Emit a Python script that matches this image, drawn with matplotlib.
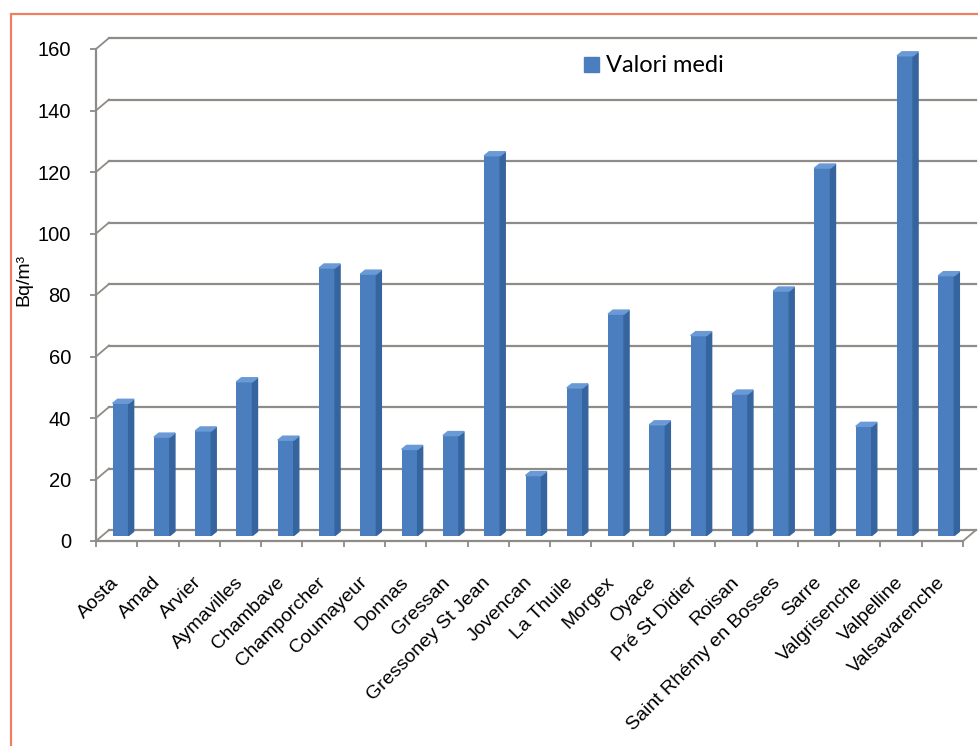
import matplotlib
matplotlib.use('Agg')
import matplotlib.pyplot as plt
from matplotlib.patches import Polygon, Rectangle
import numpy as np

# Valori medi di concentrazione di radon per comune (Bq/m³)
comuni = ['Aosta', 'Amad', 'Arvier', 'Aymavilles', 'Chambave', 'Champorcher',
          'Coumayeur', 'Donnas', 'Gressan', 'Gressoney St Jean', 'Jovencan',
          'La Thuile', 'Morgex', 'Oyace', 'Pré St Didier', 'Roisan',
          'Saint Rhémy en Bosses', 'Sarre', 'Valgrisenche', 'Valpelline',
          'Valsavarenche']
valori_medi = [43, 32, 34, 50, 31, 87, 85, 28, 32.5, 123.5, 19.5,
               48, 72, 36, 65, 46, 79.5, 119.5, 35.5, 156, 84.5]
tick_y = [0, 20, 40, 60, 80, 100, 120, 140, 160]

GRIGIO = '#8e8b88'
BLU = '#4a7ebf'
BLU_LATO = '#35649e'
BLU_TOP = '#6a9ad6'

plt.rcParams['font.family'] = ['Liberation Sans', 'DejaVu Sans']

fig = plt.figure(figsize=(9.79, 7.46), dpi=100)
ax = fig.add_axes([96 / 979, 205 / 746, 867 / 979, 492 / 746])
n = len(comuni)
x = np.arange(n)
ax.set_xlim(-0.5, n - 0.5)
ax.set_ylim(0, 160)

# profondita' della vista 3D in unita' dati
px_x = 867 / n
px_y = 492 / 160
prof_x = 13 / px_x
prof_y = 11 / px_y

# parete di fondo: griglia orizzontale e raccordi diagonali
for y in tick_y:
    ax.plot([-0.5 + prof_x, n - 0.5 + prof_x], [y + prof_y, y + prof_y],
            color=GRIGIO, lw=1.6, clip_on=False, zorder=1)
    ax.plot([-0.5, -0.5 + prof_x], [y, y + prof_y],
            color=GRIGIO, lw=1.3, clip_on=False, zorder=1)
ax.plot([n - 0.5, n - 0.5 + prof_x], [0, prof_y],
        color=GRIGIO, lw=1.3, clip_on=False, zorder=1)

# colonne con faccia laterale e superiore
off_x = 4 / px_x
off_y = 5.5 / px_y
larg = 16 / px_x
lato_x = 5 / px_x
lato_y = 4 / px_y
ax.bar(x + off_x, valori_medi, width=larg, bottom=off_y, color=BLU,
       zorder=3, clip_on=False)
for xi, v in zip(x, valori_medi):
    xl = xi + off_x - larg / 2
    xr = xi + off_x + larg / 2
    top = off_y + v
    ax.add_patch(Polygon([(xr, off_y), (xr + lato_x, off_y + lato_y),
                          (xr + lato_x, top + lato_y), (xr, top)],
                         closed=True, color=BLU_LATO, zorder=3, clip_on=False))
    ax.add_patch(Polygon([(xl, top), (xl + lato_x, top + lato_y),
                          (xr + lato_x, top + lato_y), (xr, top)],
                         closed=True, color=BLU_TOP, zorder=3, clip_on=False))

for s in ['top', 'right']:
    ax.spines[s].set_visible(False)
for s in ['left', 'bottom']:
    ax.spines[s].set_color(GRIGIO)
    ax.spines[s].set_linewidth(1.6)

ax.set_yticks(tick_y)
ax.tick_params(axis='y', direction='out', length=4, width=1.3, color=GRIGIO,
               labelsize=14.5, pad=14)
ax.set_xticks(x)
ax.set_xticklabels(comuni, rotation=45, ha='right', va='center',
                   rotation_mode='anchor', fontsize=14)
ax.set_xticks(np.arange(-0.5, n), minor=True)
ax.tick_params(axis='x', which='major', length=0, pad=28)
ax.tick_params(axis='x', which='minor', direction='out', length=4, width=1.3,
               color=GRIGIO)

ax.set_ylabel('Bq/m³', fontsize=14)
ax.yaxis.set_label_coords(-0.073, 0.53)

leg = ax.legend([Rectangle((0, 0), 1, 1, color=BLU)], ['Valori medi'],
                loc='center left', bbox_to_anchor=(584 / 979, 1 - 66 / 746),
                bbox_transform=fig.transFigure, frameon=False,
                prop={'family': 'Lato', 'size': 17}, handlelength=0.62,
                handleheight=0.62, handletextpad=0.3, borderpad=0,
                borderaxespad=0)

# cornice arancione
fig.patches.append(Rectangle((11 / 979, -0.1), 1.2, 1 - 14 / 746 + 0.1,
                             transform=fig.transFigure, fill=False,
                             edgecolor='#f07f62', lw=1.6, zorder=0))

fig.savefig('out.png', dpi=100)
